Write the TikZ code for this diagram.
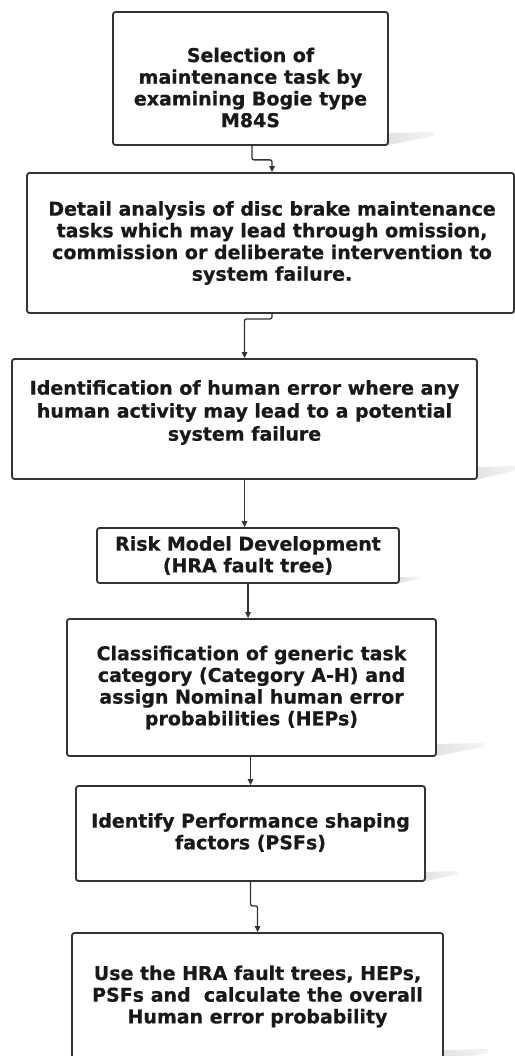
\documentclass[tikz,border=0pt]{standalone}
\usepackage{fontspec}
\setmainfont{DejaVu Sans}
\newfontfamily\boxfont{DejaVu Sans Bold}[FakeBold=0.6]
\usetikzlibrary{arrows.meta,calc}
\definecolor{edge}{HTML}{333333}
\tikzset{
  stepbox/.style={draw=edge, line width=1.8pt, rounded corners=2.5pt, fill=white, inner sep=0pt},
  txt/.style={align=center, font=\boxfont\fontsize{19}{21.7}\selectfont, text=black!90, inner sep=0pt},
  conn/.style={draw=edge, line width=1.3pt, rounded corners=2pt, -{Triangle[length=6pt,width=5.5pt]}},
  shadowfill/.style={left color=gray!22, right color=gray!8, draw=none}
}
\begin{document}
\begin{tikzpicture}[x=1pt,y=-1pt]
\useasboundingbox (0,0) rectangle (514,1056);
% shadows
\shade[shadowfill] (389,133) -- (434,132) -- (434,136) -- (389,145) -- cycle;
\shade[shadowfill] (478,467) -- (518,466) -- (518,470) -- (478,479) -- cycle;
\shade[shadowfill] (400,577) -- (419,577) -- (419,579) -- (400,583) -- cycle;
\shade[shadowfill] (437,744) -- (484,743) -- (484,747) -- (437,756) -- cycle;
\shade[shadowfill] (426,872) -- (458,871) -- (458,874) -- (426,881) -- cycle;
\shade[shadowfill] (444,1050) -- (488,1049) -- (488,1053) -- (444,1061) -- cycle;
% boxes
\node[stepbox, minimum width=275pt, minimum height=133pt] (b1) at (250.5,78.5) {};
\node[stepbox, minimum width=487pt, minimum height=140pt] (b2) at (270.5,243) {};
\node[stepbox, minimum width=465pt, minimum height=120pt] (b3) at (244.5,419) {};
\node[stepbox, minimum width=302pt, minimum height=55pt] (b4) at (248,555.5) {};
\node[stepbox, minimum width=369pt, minimum height=137pt] (b5) at (251.5,687.5) {};
\node[stepbox, minimum width=349pt, minimum height=95pt] (b6) at (250.5,833.5) {};
\node[stepbox, minimum width=371pt, minimum height=128pt] (b7) at (257.5,997) {};
% texts
\node[txt] (t1) at ([yshift=-9pt]b1.center) {Selection of\\maintenance task by\\examining Bogie type\\M84S};
\node[txt] (t2) at ([xshift=1.5pt]b2.center) {Detail analysis of disc brake maintenance\\tasks which may lead through omission,\\commission or deliberate intervention to\\system failure.};
\node[txt, font=\boxfont\fontsize{19}{23}\selectfont] (t3) at ([yshift=6.5pt]b3.center) {Identification of human error where any\\human activity may lead to a potential\\system failure};
\node[txt] (t4) at (b4.center) {Risk Model Development\\(HRA fault tree)};
\node[txt] (t5) at (b5.center) {Classification of generic task\\category (Category A-H) and\\assign Nominal human error\\probabilities (HEPs)};
\node[txt] (t6) at ([yshift=1pt]b6.center) {Identify Performance shaping\\factors (PSFs)};
\node[txt] (t7) at ([yshift=0.5pt]b7.center) {Use the HRA fault trees, HEPs,\\PSFs and\ \ calculate the overall\\Human error probability};
% connectors
\draw[conn] ([xshift=1.5pt]b1.south) -- ++(0,14) -| ([xshift=1.5pt]b2.north);
\draw[conn] ([xshift=1.5pt]b2.south) -- ++(0,5) -| (b3.north);
\draw[conn] (b3.south) -- (b3.south |- b4.north);
\draw[conn] (b4.south) -- (b4.south |- b5.north);
\draw[conn] (b6.north |- b5.south) -- (b6.north);
\draw[conn] (b6.south) -- ++(0,24) -| (b7.north);
\end{tikzpicture}
\end{document}
